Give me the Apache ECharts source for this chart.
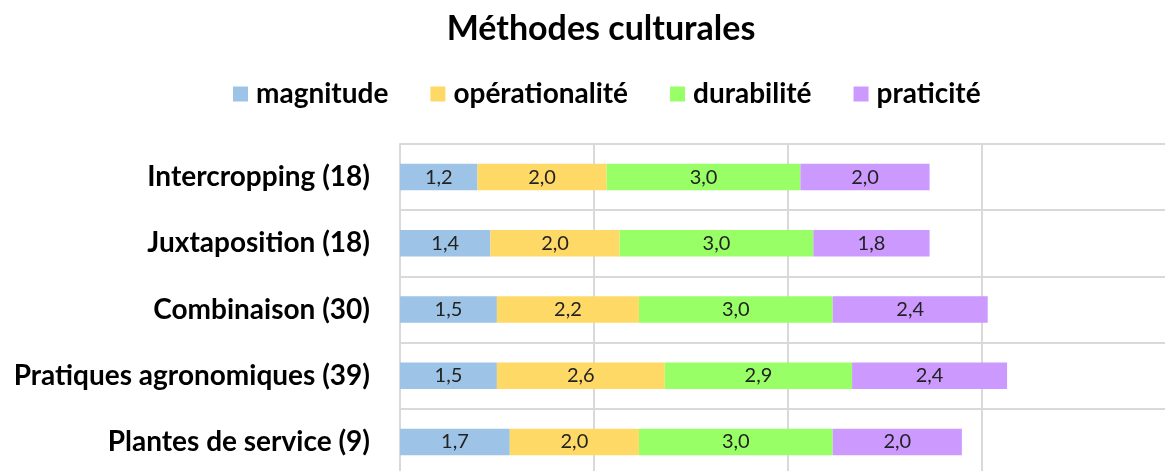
<!DOCTYPE html>
<html>
<head>
<meta charset="utf-8">
<script src="https://cdn.jsdelivr.net/npm/echarts@6/dist/echarts.min.js"></script>
<style>
  html, body { margin: 0; padding: 0; background: #fff; }
  #chart { width: 1165px; height: 471px; }
</style>
</head>
<body>
<div id="chart"></div>
<script>
// catégories (de haut en bas)
const categories = [
  "Intercropping (18)",
  "Juxtaposition (18)",
  "Combinaison (30)",
  "Pratiques agronomiques (39)",
  "Plantes de service (9)"
];

// valeurs par critère
const magnitude = [1.2, 1.4, 1.5, 1.5, 1.7];
const operationalite = [2.0, 2.0, 2.2, 2.6, 2.0];
const durabilite = [3.0, 3.0, 3.0, 2.9, 3.0];
const praticite = [2.0, 1.8, 2.4, 2.4, 2.0];

const seriesNames = ["magnitude", "opérationalité", "durabilité", "praticité"];
const seriesData = [magnitude, operationalite, durabilite, praticite];
const colors = ["#9dc3e6", "#ffd966", "#99ff66", "#cc99ff"];

const FONT = "Lato";

const chart = echarts.init(document.getElementById("chart"));

const option = {
  backgroundColor: "#fff",
  color: colors,
  title: {
    text: "Méthodes culturales",
    left: 596,
    textAlign: "center",
    top: 7,
    textStyle: { fontFamily: FONT, fontSize: 34, fontWeight: "bold", color: "#000" }
  },
  legend: {
    top: 75,
    left: 228,
    itemWidth: 15,
    itemHeight: 15,
    itemGap: 42,
    icon: "rect",
    textStyle: { fontFamily: FONT, fontSize: 28, fontWeight: "bold", color: "#000", padding: [0, 0, 0, 3] },
    data: seriesNames
  },
  // l'axe continue au-delà du bord droit (coupé comme dans l'original)
  grid: { left: 400, width: 775, top: 144, bottom: -4, outerBoundsMode: "none", containLabel: false },
  xAxis: {
    type: "value",
    min: 0,
    max: 12,
    interval: 3,
    axisLabel: { show: false },
    axisLine: { show: false },
    axisTick: { show: false },
    splitLine: { lineStyle: { color: "#d9d9d9", width: 2 } }
  },
  yAxis: {
    type: "category",
    inverse: true,
    data: categories,
    axisTick: { show: false },
    axisLine: { show: true, lineStyle: { color: "#d9d9d9", width: 2 } },
    splitLine: { show: true, lineStyle: { color: "#d9d9d9", width: 2 } },
    axisLabel: {
      margin: 30,
      fontFamily: FONT,
      fontSize: 28,
      fontWeight: "bold",
      color: "#000"
    }
  },
  series: seriesNames.map((name, i) => ({
    name: name,
    type: "bar",
    stack: "total",
    barWidth: "40%",
    data: seriesData[i],
    label: {
      show: true,
      position: "inside",
      fontFamily: FONT,
      fontSize: 20,
      color: "#222",
      formatter: p => p.value.toFixed(1).replace(".", ",")
    }
  }))
};

chart.setOption(option);
</script>
</body>
</html>
